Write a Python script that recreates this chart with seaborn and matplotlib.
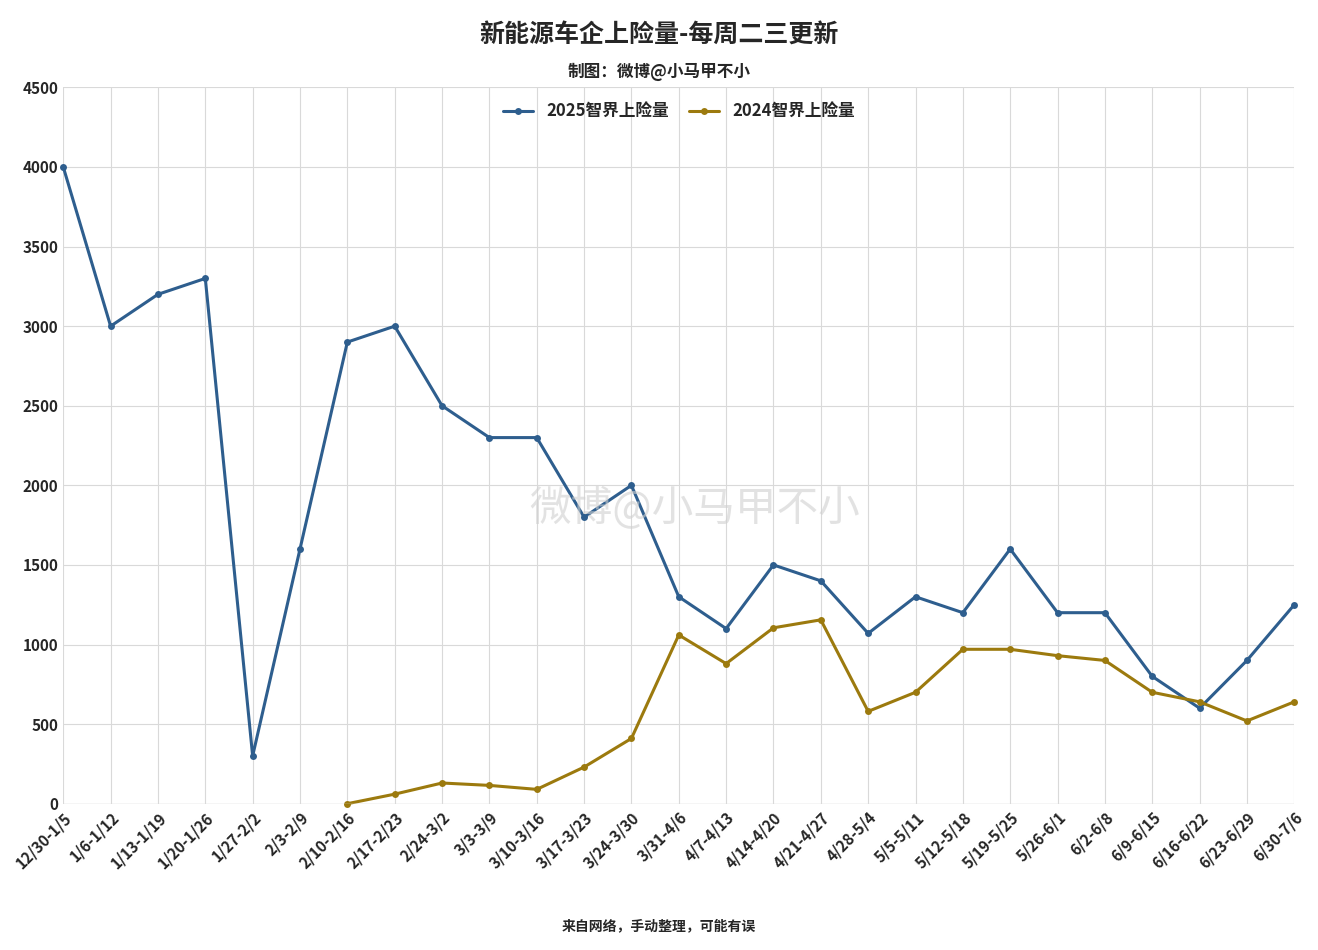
import matplotlib
matplotlib.use("Agg")
import matplotlib.pyplot as plt
import seaborn as sns
import pandas as pd
import numpy as np

weeks = ["12/30-1/5","1/6-1/12","1/13-1/19","1/20-1/26","1/27-2/2","2/3-2/9","2/10-2/16",
         "2/17-2/23","2/24-3/2","3/3-3/9","3/10-3/16","3/17-3/23","3/24-3/30","3/31-4/6",
         "4/7-4/13","4/14-4/20","4/21-4/27","4/28-5/4","5/5-5/11","5/12-5/18","5/19-5/25",
         "5/26-6/1","6/2-6/8","6/9-6/15","6/16-6/22","6/23-6/29","6/30-7/6"]
s2025 = [4000,3000,3200,3300,300,1600,2900,3000,2500,2300,2300,1800,2000,1300,1100,1500,
         1400,1070,1300,1200,1600,1200,1200,800,600,900,1250]
s2024 = [np.nan]*6 + [0,60,130,115,90,230,410,1060,880,1105,1155,580,700,970,970,930,900,
                      700,640,520,640]

sns.set_theme(style="white")
plt.rcParams['font.family'] = ['Noto Sans CJK SC', 'DejaVu Sans']

df = pd.DataFrame({"x": list(range(len(weeks)))*2,
                   "v": s2025 + s2024,
                   "s": ["2025智界上险量"]*len(weeks) + ["2024智界上险量"]*len(weeks)})

fig = plt.figure(figsize=(13.18, 9.5), dpi=100)
ax = fig.add_axes([0.048, 0.154, 0.934, 0.754])
sns.lineplot(data=df, x="x", y="v", hue="s", palette=["#2E5E8E", "#9C7A0E"], marker="o",
             markersize=5, markeredgewidth=0, linewidth=2.2, ax=ax, clip_on=False)
ax.set_xlim(0, len(weeks)-1)
ax.set_ylim(0, 4500)
ax.set_yticks(range(0, 4501, 500))
ax.set_xticks(range(len(weeks)))
ax.set_xticklabels(weeks, rotation=45, ha="right", rotation_mode="anchor", fontsize=11, fontweight="bold")
ax.grid(True, which="major", axis="both", color="#d9d9d9", lw=0.8)
ax.tick_params(axis="y", labelsize=11, length=0)
ax.tick_params(axis="x", length=0, pad=4)
for t in ax.get_yticklabels():
    t.set_fontweight("bold")
ax.set_xlabel(""); ax.set_ylabel("")
for sp in ax.spines.values():
    sp.set_visible(False)
ax.axhline(0, color="#d9d9d9", lw=1)
ax.legend(loc="upper center", bbox_to_anchor=(0.5, 1.0), ncol=2, frameon=False,
          prop={"weight": "bold", "size": 12}, handlelength=1.8, columnspacing=1.2)
fig.text(0.5, 0.963, "新能源车企上险量-每周二三更新", ha="center", va="center", fontsize=18, fontweight="bold")
fig.text(0.5, 0.924, "制图：微博@小马甲不小", ha="center", va="center", fontsize=12, fontweight="bold")
fig.text(0.5, 0.025, "来自网络，手动整理，可能有误", ha="center", va="center", fontsize=10, fontweight="bold")
fig.text(0.527, 0.465, "微博@小马甲不小", ha="center", va="center", fontsize=30, color="#d0d0d0", alpha=0.6)
fig.savefig("out.png", dpi=100, facecolor="white")
